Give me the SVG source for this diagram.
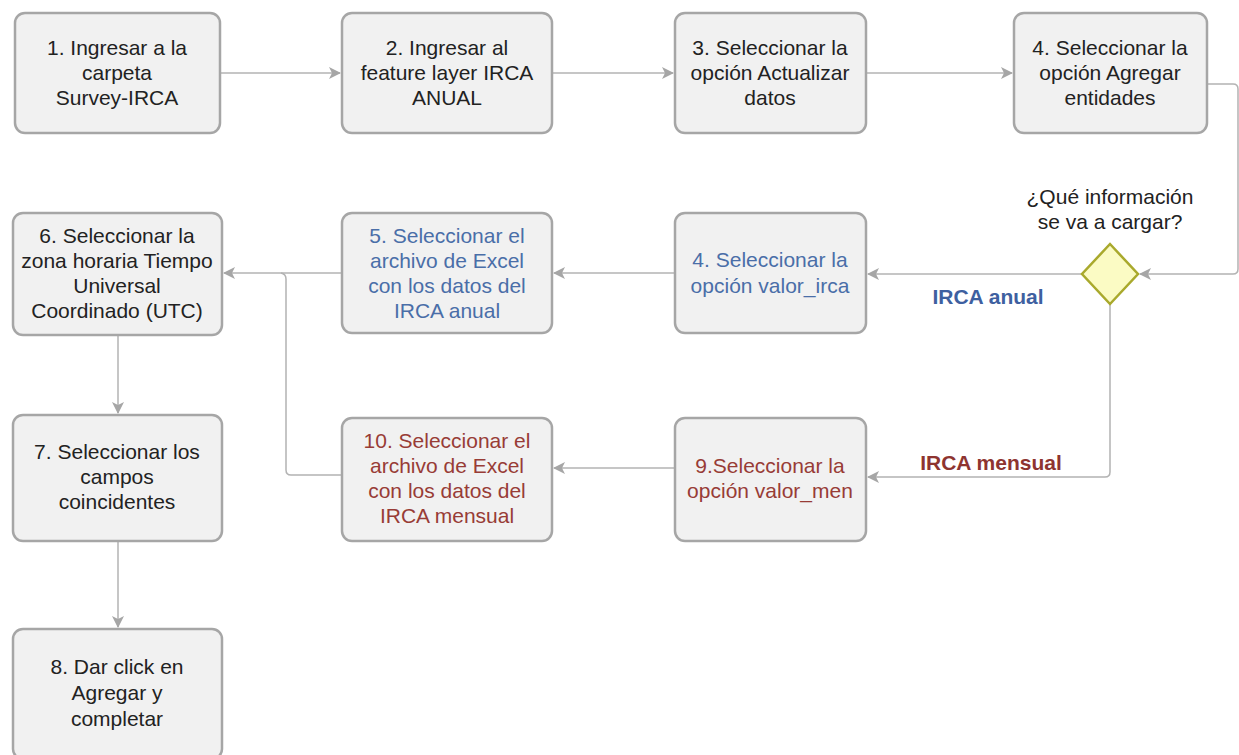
<svg xmlns="http://www.w3.org/2000/svg" width="1239" height="755" viewBox="0 0 1239 755">
<style>
.box{fill:#f1f1f1;stroke:#a6a6a6;stroke-width:2.5}
.t{font-family:"Liberation Sans",Arial,sans-serif;font-size:21px;text-anchor:middle;fill:#222}
.blue{fill:#4a6ea8}
.red{fill:#983c36}
.lbl{font-family:"Liberation Sans",Arial,sans-serif;font-size:21px;font-weight:bold;text-anchor:middle}
.c{fill:none;stroke:#b3b3b3;stroke-width:1.5}
</style>
<defs>
<marker id="a" viewBox="0 0 12 12" refX="11" refY="6" markerWidth="12" markerHeight="12" markerUnits="userSpaceOnUse" orient="auto">
<path d="M0,0 L12,6 L0,12 L3,6 z" fill="#a6a6a6"/>
</marker>
</defs>
<rect width="1239" height="755" fill="#fff"/>
<g id="connectors">
<path class="c" d="M220,73 H340" marker-end="url(#a)"/>
<path class="c" d="M552,73 H673" marker-end="url(#a)"/>
<path class="c" d="M866,73 H1012" marker-end="url(#a)"/>
<path class="c" d="M1207,84 H1233 Q1238,84 1238,89 V269 Q1238,274 1233,274 H1140" marker-end="url(#a)"/>
<path class="c" d="M1082,274 H868" marker-end="url(#a)"/>
<path class="c" d="M1110,304 V472 Q1110,477 1105,477 H868" marker-end="url(#a)"/>
<path class="c" d="M675,273 H554" marker-end="url(#a)"/>
<path class="c" d="M342,273 H224" marker-end="url(#a)"/>
<path class="c" d="M675,468 H554" marker-end="url(#a)"/>
<path class="c" d="M342,475 H291 Q286,475 286,470 V279 Q286,274 281,273"/>
<path class="c" d="M118,335 V413" marker-end="url(#a)"/>
<path class="c" d="M118,541 V627" marker-end="url(#a)"/>
</g>
<g id="n1"><rect class="box" x="15" y="13" width="205" height="120" rx="10"/>
<text class="t" x="117" y="55">1. Ingresar a la</text><text class="t" x="117" y="80">carpeta</text><text class="t" x="117" y="105">Survey-IRCA</text></g>
<g id="n2"><rect class="box" x="342" y="13" width="210" height="120" rx="10"/>
<text class="t" x="447" y="55">2. Ingresar al</text><text class="t" x="447" y="80">feature layer IRCA</text><text class="t" x="447" y="105">ANUAL</text></g>
<g id="n3"><rect class="box" x="675" y="13" width="191" height="120" rx="10"/>
<text class="t" x="770" y="55">3. Seleccionar la</text><text class="t" x="770" y="80">opción Actualizar</text><text class="t" x="770" y="105">datos</text></g>
<g id="n4"><rect class="box" x="1014" y="13" width="193" height="120" rx="10"/>
<text class="t" x="1110" y="55">4. Seleccionar la</text><text class="t" x="1110" y="80">opción Agregar</text><text class="t" x="1110" y="105">entidades</text></g>
<g id="decision"><path d="M1110,244 L1138,274 L1110,304 L1082,274 Z" fill="#fbfbc4" stroke="#a9a92c" stroke-width="2.5"/>
<text class="t" x="1110" y="204">¿Qué información</text><text class="t" x="1110" y="229">se va a cargar?</text></g>
<g id="lbl-anual"><text class="lbl" x="988" y="304" fill="#3e60a0">IRCA anual</text></g>
<g id="lbl-mensual"><text class="lbl" x="991" y="470" fill="#8e3430">IRCA mensual</text></g>
<g id="n4b"><rect class="box" x="675" y="213" width="191" height="120" rx="10"/>
<text class="t blue" x="770" y="267">4. Seleccionar la</text><text class="t blue" x="770" y="293">opción valor_irca</text></g>
<g id="n5"><rect class="box" x="342" y="213" width="210" height="120" rx="10"/>
<text class="t blue" x="447" y="243">5. Seleccionar el</text><text class="t blue" x="447" y="268">archivo de Excel</text><text class="t blue" x="447" y="293">con los datos del</text><text class="t blue" x="447" y="318">IRCA anual</text></g>
<g id="n6"><rect class="box" x="13" y="213" width="209" height="122" rx="10"/>
<text class="t" x="117" y="243">6. Seleccionar la</text><text class="t" x="117" y="268">zona horaria Tiempo</text><text class="t" x="117" y="293">Universal</text><text class="t" x="117" y="318">Coordinado (UTC)</text></g>
<g id="n7"><rect class="box" x="13" y="415" width="209" height="126" rx="10"/>
<text class="t" x="117" y="459">7. Seleccionar los</text><text class="t" x="117" y="484">campos</text><text class="t" x="117" y="509">coincidentes</text></g>
<g id="n8"><rect class="box" x="13" y="629" width="209" height="130" rx="10"/>
<text class="t" x="117" y="674">8. Dar click en</text><text class="t" x="117" y="700">Agregar y</text><text class="t" x="117" y="726">completar</text></g>
<g id="n10"><rect class="box" x="342" y="418" width="210" height="123" rx="10"/>
<text class="t red" x="447" y="448">10. Seleccionar el</text><text class="t red" x="447" y="473">archivo de Excel</text><text class="t red" x="447" y="498">con los datos del</text><text class="t red" x="447" y="523">IRCA mensual</text></g>
<g id="n9"><rect class="box" x="675" y="418" width="191" height="123" rx="10"/>
<text class="t red" x="770" y="473">9.Seleccionar la</text><text class="t red" x="770" y="498">opción valor_men</text></g>
</svg>
